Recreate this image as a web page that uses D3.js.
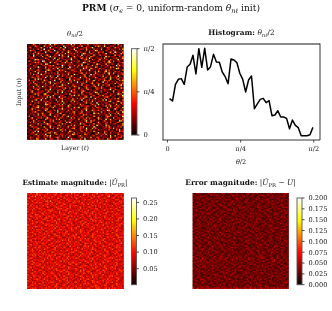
<!DOCTYPE html>
<html>
<head>
<meta charset="utf-8">
<script src="https://d3js.org/d3.v7.min.js"></script>
<style>
html, body { margin: 0; padding: 0; background: #fff; }
text { font-family: "DejaVu Serif", serif; fill: #111; opacity: 0.99; }
</style>
</head>
<body>
<div id="chart"></div>
<script>
// heatmap levels, one digit per cell
const thetaRows = [
'21037410 52116038 20741136 00352917 13062241 70314052 21160340 12507321',
'03120652 10073241 61203100 84210362 01527103 42001637 30281104 25013160',
'14600231 27301508 01342270 19033105 27010346 12581003 04213652 01734022',
'30215016 03190224 36102514 70012438 10245307 30116042 17002351 40312607',
'02741300 16240372 00912031 52163004 72310016 04231870 23105402 16302041',
'51103624 30018215 42037106 10284120 36150241 07023116 42600137 20951306',
'10236017 42503100 21164032 07132516 01403872 12640305 10328014 36021174',
'23008141 16024731 00523917 21060342 15208031 43017202 61143020 01724530',
'04127302 31702058 14230106 43190027 30261404 10752130 02018361 42300615',
'31450120 02136410 32801624 00213705 12047316 08310224 35072100 14261037',
'00213867 14300251 06117203 25140930 24003157 21064013 70124306 20318042',
'16302405 20971023 41052360 12700324 03611250 47102036 11350284 06123501',
'20140736 31052108 21630014 08341720 15200973 01426310 23041576 13002246',
'03511042 16308720 00147325 30126041 20437100 62013085 40127031 52106013',
'42016230 01253146 37201009 41052316 13608024 10270341 05312640 10293724',
'10320518 42017034 10263517 02009432 06121537 24310760 13024107 36105002',
'21704103 30126052 06418020 13275104 20310846 01752213 60420315 01387120',
'05230146 21003684 12301736 40102563 11074230 39120405 02137061 24010316',
'13021704 50429013 20036142 07313025 42160013 04213607 31058242 10623400',
'30612018 03116240 51407023 10264031 00357216 14002731 20160483 07213054',
'02307142 18250031 10324605 23071108 43102560 20916034 13402071 32004126',
'41130056 20413607 24008116 30512740 02130471 06325102 40713206 01428310',
'10264305 01329012 63170420 01436215 30082146 12031750 03216017 24160532',
'23001718 36140205 00412753 21008134 15620304 27100423 51360028 10137204',
'06142530 12074310 32901046 13026507 21400316 50138204 10274163 02301647',
'31207014 02613058 14023170 40312602 09132407 13260041 02813520 41062013',
'02513640 21306017 00742315 12084031 24106530 01470236 31025104 20714036',
'14020371 40125302 26031008 35201164 10327015 42036108 10623470 13002582',
'20317106 01824035 13052764 00140327 51200346 10325712 06104231 02516340',
'03126042 51032106 20413015 27306012 40813027 31100564 27310016 43201075',
'12400537 20106418 03121540 62013046 02315104 72402163 01253048 10631220',
'30271014 03512370 41006327 10240915 13026740 00314502 16042310 27005134',
'01362025 14200643 12307018 04121356 30107214 25031870 34001521 06123407',
'21014736 30178102 00632140 23507104 02416301 14620037 02135104 30218650',
'40320106 12043560 27013045 10012638 12703054 01236102 50713026 11402038',
'10536012 04321708 15200934 26031410 31040267 20813045 01246730 23100416',
'02110345 21607103 03412057 10342162 06152730 13004821 24060131 40627301',
'31240670 18032014 20170326 04120573 10328104 25061403 12708035 02314106',
'13072104 02153640 31006218 20413607 24100536 01270314 40321067 11048523',
'20301516 40217036 02413150 71200342 05312047 12603091 03125400 26130174',
'03614020 12038751 10243607 03126014 31072510 00362418 21504063 10271305',
'41025137 30104216 02701354 12084302 10236145 60213702 01427038 03516120',
'12030468 20514031 47130206 01352107 24801036 13040265 31002714 20163407',
'20171503 01236710 03102548 24031615 03120467 20135014 06213450 12840031',
'02340126 51028304 12607013 30161240 42015308 01274036 10532871 04120263',
'31052740 12300465 20118034 02513067 10427103 34106120 27031045 21063108',
'10423016 03712106 42031570 12004326 01365204 12008537 13240160 30517204',
'03115207 20641038 01326004 73120415 20310746 02513021 40126308 01230645',
'26001432 14052310 30724106 01382051 13046210 40127303 02105764 12340018',
'10372015 06213841 02150363 20401716 02431507 16320048 31024610 07125302',
'03241160 20107325 14062701 30125042 11702364 03215106 24018037 10431526',
'41027305 12340016 27103042 16023510 40213058 10746012 01362105 23100874',
'12506230 31072104 03421650 01738204 12053016 24600137 10324506 02136100',
'20130417 04125863 10240317 25100432 03182640 01237015 42016302 14520037',
'03714012 25010346 31005721 03142607 20310154 16042083 13207450 20104326',
'10263540 13072018 02413160 40271035 12064710 30218502 01426073 03215160',
'31005127 40216305 16038204 11320467 01253308 12071640 20133054 17042301',
'02412063 10531720 03120475 26014103 40162037 21503016 04312160 21063804',
'14031708 21046013 50213106 03128540 12036205 01417320 21065013 30210745',
'20256014 03120467 12840031 21063017 03412160 52100438 13072206 01435102',
'01320571 30418102 01263054 10412386 24103075 12020361 40517023 12006341',
'32104206 12053748 23010516 04136021 10572304 03146012 26031408 02713054',
'10631045 20140316 01357204 12094310 02316140 31702065 10423017 30125460',
'20413076 03127105 42016320 10520743 13062081 02431506 21300745 01263012'
];
const estimateRows = [
'32423152 33212432 23341243 12332524 22312433 42132352 31224322 43213323',
'23132342 41233223 12432331 23423213 34122532 31243212 24313342 12342231',
'12342513 23143322 43213242 31322413 21343122 33214234 32122451 23313242',
'34221233 14322342 31224312 43232132 43213323 21432213 13342212 34213124',
'22313423 32241312 23332142 12423321 32123242 34122331 42213332 21343122',
'31242133 22314425 12323312 32143224 23412311 22333142 13324231 32212433',
'23123342 43212331 42213433 22312143 31324223 13242132 43212312 24133242',
'41332212 23133422 32142213 43213322 12233412 42313223 21342321 12423321',
'22413231 31423213 23312243 12324233 43122332 21342413 32213233 41232134',
'13232342 23212431 12343222 33214123 22341312 34221312 41323122 23132412',
'32314123 42331222 31224342 21433212 13242323 12332441 23213324 32341223',
'23142312 13223343 42212313 34312232 32413122 42213233 12342312 13224332',
'41233223 32142124 23332412 13224331 23133242 31243212 33212423 42312133',
'12342312 23413233 12231432 32142323 42212334 22341323 21334212 23142322',
'33212443 12332321 34212233 43213212 31234213 13232422 42213132 32423312',
'22431323 42213143 23332132 12342423 23213312 34213312 13243221 42132233',
'31223142 33124322 42131232 33421223 12342331 22312433 32142313 13223442',
'24312332 12343212 31224413 22314231 43212233 12433221 23123342 32214231',
'13242213 32212433 23412312 43123223 31224312 32143422 42312213 21343312',
'32132342 24312122 33142322 13243312 22341243 13222313 34213231 42213123',
'21343221 31423332 12243213 33212421 32133422 42331213 12324232 23142343',
'43122313 22134233 42313221 12432332 13224213 32123342 23412312 32213422',
'12323442 33212132 23143232 41322312 23412232 31242123 32213423 12342321',
'33241212 14233223 32412313 22133423 42213312 23324132 13242232 43213212',
'22313143 32421232 13223342 33122431 32143213 12432223 34312122 23143332',
'41232233 23114323 42233122 13422332 21343122 33212342 22313423 12342213',
'13342212 42231332 31123423 24312213 13242332 41223132 32413221 43212323',
'32123423 12342321 23412213 33242131 42213223 32143312 13223432 21342233',
'23241312 33213242 12343312 42212343 31123242 22342133 42312223 13243212',
'42312133 21343122 32213431 12323224 23413312 13242322 33112423 32124343',
'12233423 32412213 43122332 23142313 32233141 42123323 12342231 24313122',
'33412212 14232343 22313124 33242312 12342223 31224313 23412132 32232413',
'21332423 32123312 13243422 22134231 43213312 23122433 31243212 12342332',
'32213142 23433212 41322123 31423223 22312143 32413122 42213233 33112342',
'13423231 12332143 23212432 12342313 33241232 12323413 23312242 42133212',
'42312323 42213212 33142312 32214233 13212342 42231332 12433122 23243312',
'23123414 31322432 12423231 43122312 24312323 31242213 32213143 12342423',
'32241232 23143212 33412213 12332423 31224132 22343312 13242213 43123232',
'12343122 42212333 12332142 23421313 43212233 12312423 32143322 21332413',
'41232313 13242321 43213122 32123343 12342213 32431232 22313412 33242122',
'22314232 31423122 21332433 13242312 32214323 14232212 43122331 12423233',
'13242413 22313243 32412132 42231213 23142332 33212143 12343221 32213342',
'32123321 43212334 13223421 31342233 12423132 42213323 31242213 23142312',
'23431212 12332413 32143223 22413132 43212213 23342132 12323243 42312332',
'42213332 23142132 43122313 33242123 12333412 13242231 32143312 21342423',
'12342213 33421223 12232341 42312332 31223143 32413212 23312433 13223122',
'33124232 12313423 32423212 13242343 22341213 42123332 12432312 32341223',
'21342323 42231312 23143332 22134312 43212321 13322413 42213123 23142332',
'32213143 32142223 13322412 43212231 32123343 22413231 33142322 12432213',
'13423212 23412331 42213233 31243122 12343212 32231432 21343123 42312231',
'42312332 12323143 32341212 23143233 42212331 13243312 32124223 23413312',
'23142213 43212322 13243323 42312212 33142423 22312143 12433212 32212433',
'32213423 22341132 32122343 13432212 21342313 43212232 33141322 12323242',
'12342231 31423223 43213212 32143123 13222431 32413223 42132313 23242132',
'41233312 13242132 23322413 12342331 43213212 12332432 23412213 32142323',
'23124323 32213423 12431322 42213231 22343113 31242322 13223143 42312232',
'32413212 42132313 23242132 13423322 32123412 23142231 43212332 21343312',
'13223343 21342312 32143223 42312132 13242323 42213231 12332413 33124222',
'42312132 33212423 13222431 32413212 23312342 12343122 32413233 13242213',
'23142322 12423133 43212322 13242313 42213132 32143243 22313423 41232132',
'31223413 42312232 23143212 32412331 13222342 43123213 32214231 12342323',
'12342231 13242312 32341223 42123132 32241313 22313432 13243212 33142232',
'43212322 32213143 12433213 23142232 41322312 12342433 23123212 42213331',
'22343421 23324232 33141342 32423431 24342223 43312344 32234142 33423232'
];
const errorRows = [
'21343221 31423332 12243213 33212421 32133422 42331213 12324232 23142343',
'43122313 22134233 42313221 12432332 13224213 32123342 23412312 32213422',
'12323442 33212132 23143232 41322312 23412232 31242123 32213423 12342321',
'33241212 14233223 32412313 22133423 42213312 23324132 13242232 43213212',
'22313143 32421232 13223342 33122431 32143213 12432223 34312122 23143332',
'41232233 23114323 42233122 13422332 21343122 33212342 22313423 12342213',
'13342212 42231332 31123423 24312213 13242332 41223132 32413221 43212323',
'32123423 12342321 23412213 33242131 42213223 32143312 13223432 21342233',
'23241312 33213242 12343312 42212343 31123242 22342133 42312223 13243212',
'42312133 21343122 32213431 12323224 23413312 13242322 33112423 32124343',
'12233423 32412213 43122332 23142313 32233141 42123323 12342231 24313122',
'33412212 14232343 22313124 33242312 12342223 31224313 23412132 32232413',
'21332423 32123312 13243422 22134231 43213312 23122433 31243212 12342332',
'32213142 23433212 41322123 31423223 22312143 32413122 42213233 33112342',
'13423231 12332143 23212432 12342313 33241232 12323413 23312242 42133212',
'42312323 42213212 33142312 32214233 13212342 42231332 12433122 23243312',
'23123414 31322432 12423231 43122312 24312323 31242213 32213143 12342423',
'32241232 23143212 33412213 12332423 31224132 22343312 13242213 43123232',
'12343122 42212333 12332142 23421313 43212233 12312423 32143322 21332413',
'41232313 13242321 43213122 32123343 12342213 32431232 22313412 33242122',
'22314232 31423122 21332433 13242312 32214323 14232212 43122331 12423233',
'13242413 22313243 32412132 42231213 23142332 33212143 12343221 32213342',
'32123321 43212334 13223421 31342233 12423132 42213323 31242213 23142312',
'23431212 12332413 32143223 22413132 43212213 23342132 12323243 42312332',
'42213332 23142132 43122313 33242123 12333412 13242231 32143312 21342423',
'12342213 33421223 12232341 42312332 31223143 32413212 23312433 13223122',
'33124232 12313423 32423212 13242343 22341213 42123332 12432312 32341223',
'21342323 42231312 23143332 22134312 43212321 13322413 42213123 23142332',
'32213143 32142223 13322412 43212231 32123343 22413231 33142322 12432213',
'13423212 23412331 42213233 31243122 12343212 32231432 21343123 42312231',
'42312332 12323143 32341212 23143233 42212331 13243312 32124223 23413312',
'23142213 43212322 13243323 42312212 33142423 22312143 12433212 32212433',
'32213423 22341132 32122343 13432212 21342313 43212232 33141322 12323242',
'12342231 31423223 43213212 32143123 13222431 32413223 42132313 23242132',
'41233312 13242132 23322413 12342331 43213212 12332432 23412213 32142323',
'23124323 32213423 12431322 42213231 22343113 31242322 13223143 42312232',
'32413212 42132313 23242132 13423322 32123412 23142231 43212332 21343312',
'13223343 21342312 32143223 42312132 13242323 42213231 12332413 33124222',
'42312132 33212423 13222431 32413212 23312342 12343122 32413233 13242213',
'23142322 12423133 43212322 13242313 42213132 32143243 22313423 41232132',
'31223413 42312232 23143212 32412331 13222342 43123213 32214231 12342323',
'12342231 13242312 32341223 42123132 32241313 22313432 13243212 33142232',
'43212322 32213143 12433213 23142232 41322312 12342433 23123212 42213331',
'32423152 33212432 23341243 12332524 22312433 42132352 31224322 43213323',
'23132342 41233223 12432331 23423213 34122532 31243212 24313342 12342231',
'12342513 23143322 43213242 31322413 21343122 33214234 32122451 23313242',
'34221233 14322342 31224312 43232132 43213323 21432213 13342212 34213124',
'22313423 32241312 23332142 12423321 32123242 34122331 42213332 21343122',
'31242133 22314425 12323312 32143224 23412311 22333142 13324231 32212433',
'23123342 43212331 42213433 22312143 31324223 13242132 43212312 24133242',
'41332212 23133422 32142213 43213322 12233412 42313223 21342321 12423321',
'22413231 31423213 23312243 12324233 43122332 21342413 32213233 41232134',
'13232342 23212431 12343222 33214123 22341312 34221312 41323122 23132412',
'32314123 42331222 31224342 21433212 13242323 12332441 23213324 32341223',
'23142312 13223343 42212313 34312232 32413122 42213233 12342312 13224332',
'41233223 32142124 23332412 13224331 23133242 31243212 33212423 42312133',
'12342312 23413233 12231432 32142323 42212334 22341323 21334212 23142322',
'33212443 12332321 34212233 43213212 31234213 13232422 42213132 32423312',
'22431323 42213143 23332132 12342423 23213312 34213312 13243221 42132233',
'31223142 33124322 42131232 33421223 12342331 22312433 32142313 13223442',
'24312332 12343212 31224413 22314231 43212233 12433221 23123342 32214231',
'13242213 32212433 23412312 43123223 31224312 32143422 42312213 21343312',
'32132342 24312122 33142322 13243312 22341243 13222313 34213231 42213123',
'52463442 43524352 45342534 35243643 42534362 35243542 43524352 54352435'
];

// digit to data value for each heatmap
const thetaLevels = [0, 0.08, 0.16, 0.23, 0.3, 0.38, 0.48, 0.62, 0.85, 1];
const estimateLevels = [0.03, 0.055, 0.075, 0.1, 0.125, 0.16, 0.19, 0.22, 0.24, 0.255];
const errorLevels = [0, 0.014, 0.026, 0.038, 0.052, 0.066, 0.08, 0.09, 0.1, 0.11];

// histogram counts (scaled to 0-100), 50 bins
const histCounts = [42.4, 39.7, 58.8, 64.5, 65.3, 58.8, 78.6, 81.7, 92, 70.6,
    99.6, 78.2, 100, 75.2, 79, 93.1, 84.4, 84, 72.9, 67.6,
    59.5, 87.8, 86.6, 83.6, 71.4, 64.5, 50, 63.7, 68.3, 30.9,
    36.3, 41.6, 42.7, 37.8, 40.1, 22.9, 23.7, 28.6, 21.4, 21.4,
    19.8, 8, 17.9, 11.8, 9.2, 0, 0, 0, 1.1, 9.5];

const thetaTicks = [0, Math.PI / 4, Math.PI / 2];
const thetaTickLabels = ['0', 'π/4', 'π/2'];
const estimateTicks = [0.05, 0.10, 0.15, 0.20, 0.25];
const errorTicks = [0, 0.025, 0.05, 0.075, 0.1, 0.125, 0.15, 0.175, 0.2];

const svg = d3.select('#chart').append('svg')
    .attr('width', 332)
    .attr('height', 311)
    .style('display', 'block');

const defs = svg.append('defs');
defs.append('filter').attr('id', 'soft')
    .attr('x', 0).attr('y', 0).attr('width', 1).attr('height', 1)
    .append('feGaussianBlur').attr('stdDeviation', 0.4);

// matplotlib "hot"
function hot (t) {
    return d3.scaleLinear()
        .domain([0, 0.365, 0.746, 1])
        .range(['#0b0000', '#ff0000', '#ffff00', '#ffffff'])
        .clamp(true)(t);
}

// parts: plain strings or [text, style] where style is i, b, s (subscript)
function label (x, y, parts, size, anchor) {
    const t = svg.append('text')
        .attr('x', x)
        .attr('y', y)
        .attr('font-size', size)
        .attr('text-anchor', anchor || 'middle');
    let shift = 0;
    parts.forEach(p => {
        const str = typeof p === 'string' ? p : p[0];
        const st = typeof p === 'string' ? '' : p[1];
        const sp = t.append('tspan').text(str);
        if (st.includes('b')) sp.attr('font-weight', 'bold');
        if (st.includes('i')) sp.attr('font-style', 'italic');
        const want = st.includes('s') ? size * 0.22 : 0;
        if (want !== shift) sp.attr('dy', want - shift);
        shift = want;
        if (st.includes('s')) sp.attr('font-size', size * 0.72);
    });
    return t;
}

function heatmap (rows, levels, x0, x1, y0, y1, colorOf, backing) {
    const cells = rows.map(r => r.replace(/ /g, ''));
    const x = d3.scaleBand().domain(d3.range(cells[0].length)).range([x0, x1]);
    const y = d3.scaleBand().domain(d3.range(cells.length)).range([y0, y1]);
    const data = [];
    cells.forEach((r, j) => r.split('').forEach((c, i) => data.push({i, j, v: levels[+c]})));
    const g = svg.append('g').attr('filter', 'url(#soft)');
    // backing keeps the page white from showing in the cell seams
    g.append('rect')
        .attr('x', x0).attr('y', y0)
        .attr('width', x1 - x0).attr('height', y1 - y0)
        .attr('fill', backing);
    g.selectAll('rect.cell')
        .data(data)
        .join('rect')
        .attr('class', 'cell')
        .attr('x', d => x(d.i))
        .attr('y', d => y(d.j))
        .attr('width', x.bandwidth())
        .attr('height', y.bandwidth())
        .attr('fill', d => colorOf(d.v));
}

function colorbar (id, x0, x1, y0, y1, domain, ticks, fmt, labelSize) {
    const grad = defs.append('linearGradient').attr('id', id)
        .attr('x1', 0).attr('y1', 1).attr('x2', 0).attr('y2', 0);
    [0, 0.365, 0.746, 1].forEach(s => grad.append('stop')
        .attr('offset', s)
        .attr('stop-color', hot(s)));
    const y = d3.scaleLinear().domain(domain).range([y1, y0]);
    svg.append('rect')
        .attr('x', x0).attr('y', y0)
        .attr('width', x1 - x0).attr('height', y1 - y0)
        .attr('fill', `url(#${id})`)
        .attr('stroke', '#555')
        .attr('stroke-width', 0.9);
    const g = svg.append('g');
    g.selectAll('line')
        .data(ticks)
        .join('line')
        .attr('x1', x1)
        .attr('x2', x1 + 2.5)
        .attr('y1', d => y(d))
        .attr('y2', d => y(d))
        .attr('stroke', '#222')
        .attr('stroke-width', 0.8);
    g.selectAll('text')
        .data(ticks)
        .join('text')
        .attr('x', x1 + 6.5)
        .attr('y', d => y(d) + 2.4)
        .attr('font-size', labelSize)
        .text(fmt);
}

// title
label(171, 10.5, [['PRM', 'b'], ' (', ['σ', 'i'], ['ϵ', 'is'], ' = 0, uniform-random ', ['θ', 'i'], ['nℓ', 'is'], ' init)'], 9.1);

// top left
label(75, 36, [['θ', 'i'], ['nℓ', 'is'], '/2'], 6.8);
label(75, 150, ['Layer (', ['ℓ', 'i'], ')'], 6.3);
label(0, 0, ['Input (', ['n', 'i'], ')'], 6.3)
    .attr('transform', 'translate(20.5,92) rotate(-90)');

heatmap(thetaRows, thetaLevels, 27, 123.5, 44, 139.7, hot, '#5a1000');
colorbar('cb1', 131.5, 137, 48.7, 135, [0, Math.PI / 2], thetaTicks,
    (d, i) => thetaTickLabels[i], 6.8);

// histogram
const histX = d3.scaleLinear().domain([0, Math.PI / 2]).range([167, 313.3]);
const histY = d3.scaleLinear().domain([0, 100]).range([135.7, 48.3]);
const binCenter = i => 0.028 + i * 0.0314;

label(241.5, 35, [['Histogram:', 'b'], ' ', ['θ', 'i'], ['nℓ', 'is'], '/2'], 7.4);

svg.append('path')
    .attr('d', d3.line().x((d, i) => histX(binCenter(i))).y(d => histY(d))(histCounts))
    .attr('fill', 'none')
    .attr('stroke', '#000')
    .attr('stroke-width', 1.5)
    .attr('stroke-linejoin', 'round');

svg.append('path')
    .attr('d', 'M163,140V44H320')
    .attr('fill', 'none')
    .attr('stroke', '#666')
    .attr('stroke-width', 1.3);
svg.append('path')
    .attr('d', 'M320,43.5V140H162.5')
    .attr('fill', 'none')
    .attr('stroke', '#222')
    .attr('stroke-width', 0.9);

const histAxis = svg.append('g')
    .attr('transform', 'translate(0,140)')
    .call(d3.axisBottom(histX)
        .tickValues(thetaTicks)
        .tickSize(2.5)
        .tickFormat((d, i) => thetaTickLabels[i]));
histAxis.select('.domain').remove();
histAxis.selectAll('line').attr('stroke', '#222').attr('stroke-width', 0.8);
histAxis.selectAll('text')
    .attr('font-size', 6.5)
    .attr('font-family', '"DejaVu Serif", serif')
    .attr('fill', '#111')
    .attr('dy', '0.85em');
label(241, 164, [['θ', 'i'], '/2'], 6.5);

// bottom left
label(75, 185, [['Estimate magnitude:', 'b'], ' |', ['Û', 'i'], ['PR', 's'], '|'], 7.2);
heatmap(estimateRows, estimateLevels, 27.3, 123.7, 193, 289, v => hot(v / 0.2634), '#d02000');
colorbar('cb2', 131.5, 136.5, 198, 284.7, [0.0015, 0.2634], estimateTicks, d => d.toFixed(2), 6.6);

// bottom right
label(240.5, 185, [['Error magnitude:', 'b'], ' |', ['Û', 'i'], ['PR', 's'], ' − ', ['U', 'i'], '|'], 7.4);
heatmap(errorRows, errorLevels, 192.7, 288.7, 193, 289, v => hot(v / 0.2), '#700000');
colorbar('cb3', 297, 302, 198, 284.7, [0, 0.2], errorTicks, d => d.toFixed(3), 6.6);
</script>
</body>
</html>
